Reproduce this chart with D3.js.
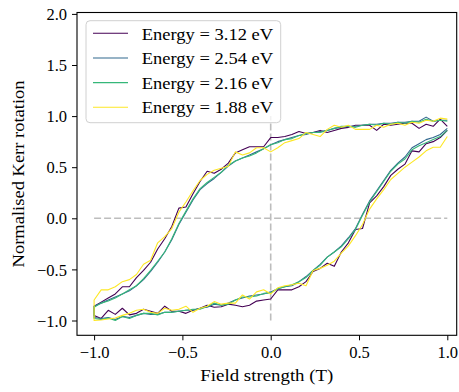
<!DOCTYPE html>
<html>
<head>
<meta charset="utf-8">
<script src="https://cdn.jsdelivr.net/npm/d3@7"></script>
<style>
  body { margin: 0; background: #fff; }
  text { font-family: "Liberation Serif", "DejaVu Serif", serif; fill: #000; }
</style>
</head>
<body>
<div id="graph"></div>
<script>
// field values (T), same grid for both branches
const field = d3.range(51).map(i => +(-1 + 0.04 * i).toFixed(2));

const labels = ["Energy = 3.12 eV", "Energy = 2.54 eV", "Energy = 2.16 eV", "Energy = 1.88 eV"];
const colors = ["#440154", "#31688e", "#35b779", "#fde725"];

// upper branch (field swept down), listed from -1 to 1
const upper312 = [-0.86,-0.82,-0.78,-0.74,-0.67,-0.67,-0.58,-0.51,-0.43,-0.30,-0.20,-0.08,0.10,0.11,0.24,0.36,0.46,0.44,0.48,0.54,0.64,0.67,0.70,0.70,0.70,0.79,0.79,0.80,0.82,0.85,0.83,0.84,0.86,0.84,0.86,0.88,0.89,0.91,0.91,0.91,0.86,0.92,0.91,0.92,0.93,0.93,0.88,0.92,0.90,0.97,0.90];
const upper254 = [-0.86,-0.83,-0.80,-0.77,-0.74,-0.71,-0.66,-0.60,-0.52,-0.43,-0.33,-0.21,-0.06,0.06,0.18,0.28,0.34,0.39,0.45,0.51,0.56,0.59,0.62,0.65,0.68,0.72,0.75,0.77,0.79,0.81,0.82,0.84,0.85,0.86,0.88,0.89,0.90,0.90,0.91,0.92,0.92,0.93,0.93,0.94,0.94,0.95,0.95,0.99,0.95,0.96,0.96];
const upper216 = [-0.87,-0.83,-0.81,-0.78,-0.74,-0.70,-0.66,-0.59,-0.51,-0.42,-0.33,-0.20,-0.05,0.07,0.19,0.29,0.35,0.40,0.45,0.52,0.56,0.59,0.61,0.64,0.68,0.72,0.74,0.77,0.78,0.81,0.83,0.84,0.84,0.86,0.88,0.90,0.90,0.89,0.91,0.92,0.91,0.93,0.92,0.94,0.93,0.95,0.94,0.97,0.95,0.96,0.95];
const upper188 = [-0.80,-0.70,-0.70,-0.67,-0.62,-0.60,-0.55,-0.45,-0.41,-0.24,-0.18,-0.10,0.06,0.16,0.27,0.37,0.43,0.47,0.49,0.51,0.65,0.62,0.64,0.69,0.69,0.65,0.69,0.74,0.76,0.78,0.84,0.82,0.80,0.87,0.91,0.89,0.91,0.87,0.87,0.87,0.91,0.89,0.92,0.93,0.91,0.94,0.93,0.96,0.95,0.98,0.97];

// lower branch (field swept up), listed from -1 to 1
const lower312 = [-0.95,-0.98,-0.90,-0.94,-0.88,-0.945,-0.93,-0.89,-0.91,-0.93,-0.86,-0.91,-0.91,-0.93,-0.90,-0.88,-0.85,-0.87,-0.865,-0.84,-0.85,-0.865,-0.85,-0.81,-0.80,-0.79,-0.70,-0.70,-0.70,-0.67,-0.62,-0.52,-0.49,-0.44,-0.47,-0.33,-0.24,-0.11,-0.10,0.15,0.22,0.31,0.42,0.48,0.53,0.66,0.65,0.73,0.75,0.79,0.86];
const lower254 = [-0.97,-0.98,-0.97,-0.99,-0.96,-0.97,-0.95,-0.93,-0.94,-0.94,-0.92,-0.92,-0.91,-0.90,-0.90,-0.88,-0.87,-0.84,-0.85,-0.83,-0.80,-0.78,-0.76,-0.75,-0.74,-0.72,-0.69,-0.67,-0.66,-0.62,-0.57,-0.51,-0.45,-0.38,-0.33,-0.27,-0.19,-0.10,0.04,0.17,0.27,0.37,0.47,0.54,0.60,0.69,0.73,0.77,0.79,0.82,0.88];
const lower216 = [-0.98,-0.99,-0.975,-1.0,-0.96,-0.98,-0.95,-0.93,-0.93,-0.945,-0.92,-0.92,-0.91,-0.90,-0.89,-0.89,-0.86,-0.83,-0.85,-0.84,-0.80,-0.77,-0.77,-0.76,-0.735,-0.73,-0.69,-0.67,-0.65,-0.62,-0.58,-0.51,-0.46,-0.38,-0.33,-0.28,-0.20,-0.11,0.03,0.16,0.26,0.36,0.46,0.53,0.58,0.67,0.71,0.74,0.77,0.80,0.86];
const lower188 = [-1.0,-0.995,-0.985,-0.975,-0.95,-0.93,-0.90,-0.89,-0.92,-0.93,-0.88,-0.90,-0.89,-0.86,-0.92,-0.88,-0.86,-0.815,-0.84,-0.83,-0.83,-0.75,-0.79,-0.72,-0.70,-0.74,-0.68,-0.66,-0.65,-0.635,-0.66,-0.51,-0.49,-0.46,-0.42,-0.34,-0.27,-0.17,-0.06,0.09,0.19,0.28,0.38,0.44,0.50,0.55,0.60,0.66,0.695,0.695,0.80];

const uppers = [upper312, upper254, upper216, upper188];
const lowers = [lower312, lower254, lower216, lower188];

const xTicks = [-1.0, -0.5, 0.0, 0.5, 1.0];
const yTicks = [-1.0, -0.5, 0.0, 0.5, 1.0, 1.5, 2.0];

const width = 459, height = 392;
const margin = { left: 77, right: 2.3, top: 12.5, bottom: 56.7 };

const svg = d3.select("#graph").append("svg")
  .attr("width", width)
  .attr("height", height);

const x = d3.scaleLinear()
  .domain([-1.0968, 1.0532])
  .range([margin.left, width - margin.right]);

const y = d3.scaleLinear()
  .domain([-1.1448, 2.0137])
  .range([height - margin.bottom, margin.top]);

const fmt = v => d3.format(".1f")(v).replace("-", "\u2212");

/** axes */
const gx = svg.append("g")
  .attr("transform", `translate(0,${height - margin.bottom})`)
  .call(d3.axisBottom(x).tickValues(xTicks).tickFormat(fmt).tickSize(5).tickPadding(6));
gx.select(".domain").remove();

const gy = svg.append("g")
  .attr("transform", `translate(${margin.left},0)`)
  .call(d3.axisLeft(y).tickValues(yTicks).tickFormat(fmt).tickSize(5).tickPadding(5));
gy.select(".domain").remove();

svg.selectAll(".tick line").attr("stroke", "#000").attr("stroke-width", 1);
svg.selectAll(".tick text")
  .style("font-family", '"Liberation Serif", serif')
  .style("font-size", "16.5px")
  .attr("fill", "#000");
gx.selectAll(".tick text").attr("dy", "0.71em");
gy.selectAll(".tick text").attr("dy", "0.34em");

/** guide lines through the origin */
svg.append("line")
  .attr("x1", x(-1)).attr("x2", x(1))
  .attr("y1", y(0)).attr("y2", y(0))
  .attr("stroke", "#bdbdbd").attr("stroke-width", 1.6)
  .attr("stroke-dasharray", "7,3");

svg.append("line")
  .attr("x1", x(0)).attr("x2", x(0))
  .attr("y1", y(-1)).attr("y2", y(1))
  .attr("stroke", "#bdbdbd").attr("stroke-width", 1.6)
  .attr("stroke-dasharray", "7,3");

/** loops: down sweep from +1 to -1, then up sweep back to +1 */
const line = d3.line()
  .x(d => x(d[0]))
  .y(d => y(d[1]));

labels.forEach((lab, i) => {
  const down = field.map((f, j) => [f, uppers[i][j]]).reverse();
  const up = field.map((f, j) => [f, lowers[i][j]]);
  svg.append("path")
    .datum(down.concat(up))
    .attr("fill", "none")
    .attr("stroke", colors[i])
    .attr("stroke-width", 1.1)
    .attr("stroke-linejoin", "round")
    .attr("d", line);
});

/** frame */
svg.append("rect")
  .attr("x", margin.left)
  .attr("y", margin.top)
  .attr("width", width - margin.left - margin.right)
  .attr("height", height - margin.top - margin.bottom)
  .attr("fill", "none")
  .attr("stroke", "#000")
  .attr("stroke-width", 1.1);

/** legend */
const legend = svg.append("g");
legend.append("rect")
  .attr("x", 86).attr("y", 20.7)
  .attr("width", 194.7).attr("height", 102)
  .attr("rx", 4)
  .attr("fill", "#fff").attr("fill-opacity", 0.8)
  .attr("stroke", "#d0d0d0").attr("stroke-width", 1);

labels.forEach((lab, i) => {
  const ry = 33.3 + i * 24.65;
  legend.append("line")
    .attr("x1", 93).attr("x2", 128)
    .attr("y1", ry).attr("y2", ry)
    .attr("stroke", colors[i]).attr("stroke-width", 1.1);
  legend.append("text")
    .attr("x", 141.7).attr("y", ry + 6.2)
    .style("font-size", "16.5px")
    .attr("textLength", 131.5)
    .attr("lengthAdjust", "spacingAndGlyphs")
    .text(lab);
});

/** axis titles */
svg.append("text")
  .attr("x", (margin.left + width - margin.right) / 2)
  .attr("y", 380.5)
  .attr("text-anchor", "middle")
  .style("font-size", "16.5px")
  .attr("textLength", 133)
  .attr("lengthAdjust", "spacingAndGlyphs")
  .text("Field strength (T)");

svg.append("text")
  .attr("transform", `translate(24,${(margin.top + height - margin.bottom) / 2}) rotate(-90)`)
  .attr("text-anchor", "middle")
  .style("font-size", "16.5px")
  .attr("textLength", 187)
  .attr("lengthAdjust", "spacingAndGlyphs")
  .text("Normalised Kerr rotation");
</script>
</body>
</html>
